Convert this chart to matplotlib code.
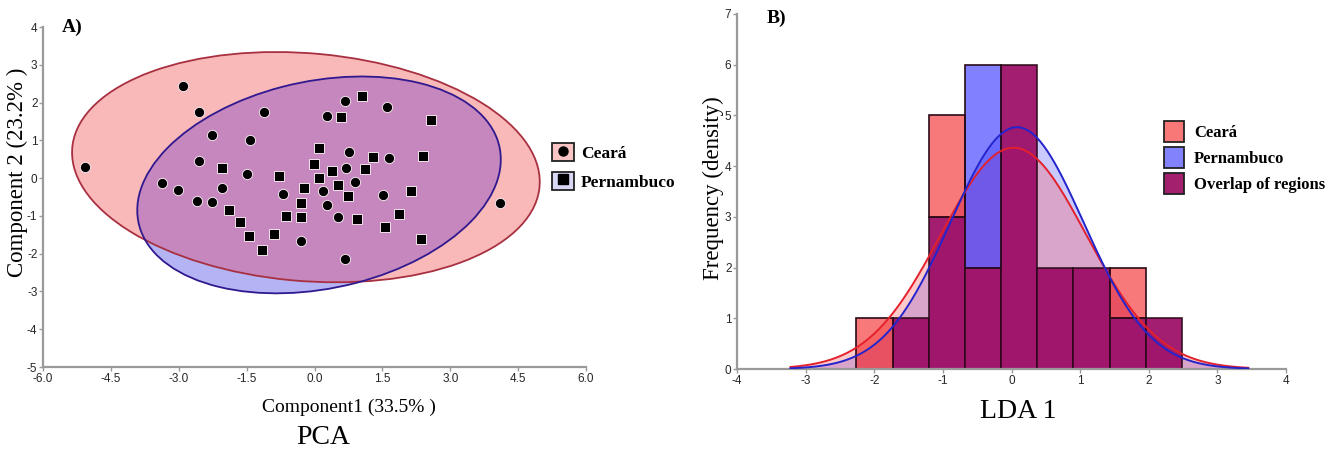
import numpy as np
import matplotlib
matplotlib.use("Agg")
import matplotlib.pyplot as plt
from matplotlib.patches import Ellipse, Patch
from matplotlib.lines import Line2D
from matplotlib.legend_handler import HandlerTuple

plt.rcParams["axes.unicode_minus"] = False

# ---------------- data: PCA scores ----------------
ceara_pc1 = [-2.91, -2.55, -2.27, -1.43, -5.07, -2.55, -1.49, -3.36, -3.01, -2.05,
             -2.60, -2.26, -1.12, 0.67, 1.60, 0.27, 0.76, 1.65, 0.70, 0.90,
             -0.69, 0.19, 1.52, 0.27, 0.51, -0.30, 0.68, 4.11]
ceara_pc2 = [2.45, 1.75, 1.14, 1.02, 0.30, 0.46, 0.11, -0.12, -0.32, -0.27,
             -0.60, -0.63, 1.74, 2.04, 1.87, 1.64, 0.70, 0.54, 0.27, -0.11,
             -0.42, -0.34, -0.44, -0.71, -1.04, -1.66, -2.15, -0.67]
pern_pc1 = [-2.04, -1.90, -1.65, -1.45, -1.16, -0.90, 1.05, 0.58, 2.58, 0.11,
            1.29, 2.40, -0.01, 1.12, 0.39, -0.78, 0.10, -0.23, 0.53, 0.73,
            2.14, -0.30, -0.64, -0.30, 0.95, 1.87, 1.56, 2.36]
pern_pc2 = [0.27, -0.85, -1.16, -1.54, -1.89, -1.48, 2.18, 1.61, 1.54, 0.81,
            0.55, 0.59, 0.37, 0.23, 0.19, 0.05, 0.01, -0.26, -0.17, -0.48,
            -0.35, -0.67, -1.00, -1.02, -1.07, -0.96, -1.30, -1.60]

# 95% ellipses: (centre x, centre y, width, height, angle)
ceara_ellipse = (-0.19, 0.29, 10.38, 6.02, -6.5)
pern_ellipse = (0.10, -0.18, 8.24, 5.44, 17.2)

pca_xticks = [-6.0, -4.5, -3.0, -1.5, 0.0, 1.5, 3.0, 4.5, 6.0]
pca_yticks = [-5, -4, -3, -2, -1, 0, 1, 2, 3, 4]
group_labels = ["Ceará", "Pernambuco"]

# ---------------- data: LDA histogram ----------------
lda_bin_edges = [-2.26, -1.733, -1.206, -0.679, -0.152, 0.375, 0.902, 1.429, 1.956, 2.483]
ceara_counts = [1, 1, 5, 2, 6, 2, 2, 2, 1]
pern_counts = [0, 1, 3, 6, 6, 2, 2, 1, 1]
ceara_fit = (0.03, 1.06)   # normal fit: mean, sd
pern_fit = (0.08, 0.97)
fit_range = (-3.22, 3.45)
lda_xticks = [-4, -3, -2, -1, 0, 1, 2, 3, 4]
lda_yticks = [0, 1, 2, 3, 4, 5, 6, 7]
hist_labels = ["Ceará", "Pernambuco", "Overlap of regions"]

# ---------------- figure ----------------
W, H = 1334, 450
fig = plt.figure(figsize=(W / 100, H / 100), dpi=100)

def fx(px):
    return px / W

def fy(py):
    return 1 - py / H

serif = "Liberation Serif"
sans = "Liberation Sans"
spine_col = "#9a9a9a"
tick_col = "#262626"

def style_axes(ax):
    for s in ["top", "right"]:
        ax.spines[s].set_visible(False)
    for s in ["left", "bottom"]:
        ax.spines[s].set_color(spine_col)
        ax.spines[s].set_linewidth(1.6)
    ax.tick_params(direction="out", length=3, width=1, color=spine_col,
                   labelsize=8.5, labelcolor=tick_col, pad=1)
    for lab in ax.get_xticklabels() + ax.get_yticklabels():
        lab.set_fontfamily(sans)

# ---------- Panel A ----------
axA = fig.add_axes([fx(43), fy(367), fx(586) - fx(43), fy(27) - fy(367)])
axA.set_xlim(-6, 6)
axA.set_ylim(-5, 4)
axA.set_xticks(pca_xticks)
axA.set_xticklabels([f"{v:.1f}" for v in pca_xticks])
axA.set_yticks(pca_yticks)
axA.set_yticklabels([str(v) for v in pca_yticks])

cx, cy, cw, ch, ca = ceara_ellipse
px_, py_, pw, ph, pa = pern_ellipse
e_c = Ellipse((cx, cy), cw, ch, angle=ca, facecolor="#f9b9b9", edgecolor="none", zorder=1)
e_p = Ellipse((px_, py_), pw, ph, angle=pa, facecolor="#b4b4f4", edgecolor="none", zorder=2)
axA.add_patch(e_c)
axA.add_patch(e_p)
e_ov = Ellipse((px_, py_), pw, ph, angle=pa, facecolor="#c587bd", edgecolor="none", zorder=3)
axA.add_patch(e_ov)
e_ov.set_clip_path(e_c)
axA.add_patch(Ellipse((cx, cy), cw, ch, angle=ca, facecolor="none",
                      edgecolor="#a83040", linewidth=1.3, zorder=4))
axA.add_patch(Ellipse((px_, py_), pw, ph, angle=pa, facecolor="none",
                      edgecolor="#30188f", linewidth=1.3, zorder=4))

axA.plot(ceara_pc1, ceara_pc2, ls="none", marker="o", ms=7.4, mfc="black",
         mec="#f3e3ec", mew=0.7, zorder=5)
axA.plot(pern_pc1, pern_pc2, ls="none", marker="s", ms=6.9, mfc="black",
         mec="#f3e3ec", mew=0.7, zorder=5)
style_axes(axA)

hA = [(Patch(facecolor="#f9c4c4", edgecolor="#222222", linewidth=1.3),
       Line2D([], [], ls="none", marker="o", ms=6.5, mfc="black", mec="black")),
      (Patch(facecolor="#d8d8f6", edgecolor="#222222", linewidth=1.3),
       Line2D([], [], ls="none", marker="s", ms=6.5, mfc="black", mec="black"))]
legA = fig.legend(hA, group_labels, loc="upper left",
                  bbox_to_anchor=(fx(552), fy(143)), frameon=False,
                  handler_map={tuple: HandlerTuple(ndivide=1)},
                  prop={"family": serif, "weight": "bold", "size": 12.5},
                  handlelength=1.25, handleheight=1.25, handletextpad=0.4,
                  labelspacing=0.55, borderpad=0, borderaxespad=0)

fig.text(fx(62), fy(27), "A)", ha="left", va="center", family=serif,
         weight="bold", size=14)
fig.text(fx(349), fy(407), "Component1 (33.5% )", ha="center", va="center",
         family=serif, size=14)
fig.text(fx(323), fy(437), "PCA", ha="center", va="center", family=serif, size=20)
fig.text(fx(17), fy(172), "Component 2 (23.2% )", ha="center", va="center",
         family=serif, size=16.5, rotation=90)

# ---------- Panel B ----------
axB = fig.add_axes([fx(737), fy(369), fx(1286) - fx(737), fy(14) - fy(369)])
axB.set_xlim(-4, 4)
axB.set_ylim(0, 7)
axB.set_xticks(lda_xticks)
axB.set_yticks(lda_yticks)

edges = np.array(lda_bin_edges)
widths = np.diff(edges)
lefts = edges[:-1]
cc = np.array(ceara_counts, dtype=float)
pc = np.array(pern_counts, dtype=float)
ov = np.minimum(cc, pc)
binw = widths.mean()

xs = np.linspace(fit_range[0], fit_range[1], 400)

def fit_curve(params, n):
    m, s = params
    return n * binw * np.exp(-0.5 * ((xs - m) / s) ** 2) / (s * np.sqrt(2 * np.pi))

yc = fit_curve(ceara_fit, cc.sum())
yp = fit_curve(pern_fit, pc.sum())

axB.fill_between(xs, 0, yp, color="#5050ff", alpha=0.30, lw=0, zorder=1)
axB.fill_between(xs, 0, yc, color="#ff5050", alpha=0.30, lw=0, zorder=1)

edge_col = "#2a0a18"
axB.bar(lefts, ov, width=widths, align="edge", color="#9b0a64", alpha=0.92,
        edgecolor=edge_col, linewidth=1.2, zorder=2)
c_ex = np.where(cc > pc, cc - ov, 0)
p_ex = np.where(pc > cc, pc - ov, 0)
mc = c_ex > 0
mp = p_ex > 0
axB.bar(lefts[mc], c_ex[mc], bottom=ov[mc], width=widths[mc], align="edge",
        color="#f31010", alpha=0.56, edgecolor="none", zorder=2)
axB.bar(lefts[mp], p_ex[mp], bottom=ov[mp], width=widths[mp], align="edge",
        color="#1e1eff", alpha=0.56, edgecolor="none", zorder=2)
axB.bar(lefts[mc], c_ex[mc], bottom=ov[mc], width=widths[mc], align="edge",
        fill=False, edgecolor=edge_col, linewidth=1.2, zorder=2.5)
axB.bar(lefts[mp], p_ex[mp], bottom=ov[mp], width=widths[mp], align="edge",
        fill=False, edgecolor=edge_col, linewidth=1.2, zorder=2.5)

axB.plot(xs, yc, color="#e3202c", lw=1.4, zorder=3)
axB.plot(xs, yp, color="#2424cc", lw=1.4, zorder=3)
style_axes(axB)

hB = [Patch(facecolor="#f87878", edgecolor="#222222", linewidth=1.3),
      Patch(facecolor="#8282fc", edgecolor="#222222", linewidth=1.3),
      Patch(facecolor="#a3206e", edgecolor="#222222", linewidth=1.3)]
fig.legend(hB, hist_labels, loc="upper left", bbox_to_anchor=(fx(1164), fy(121)),
           frameon=False, prop={"family": serif, "weight": "bold", "size": 12},
           handlelength=1.2, handleheight=1.55, handletextpad=0.6,
           labelspacing=0.3, borderpad=0, borderaxespad=0)

fig.text(fx(767), fy(18), "B)", ha="left", va="center", family=serif,
         weight="bold", size=14)
fig.text(fx(1018), fy(411), "LDA 1", ha="center", va="center", family=serif, size=20)
fig.text(fx(713), fy(188), "Frequency (density)", ha="center", va="center",
         family=serif, size=16.5, rotation=90)

fig.savefig("out.png", dpi=100)
